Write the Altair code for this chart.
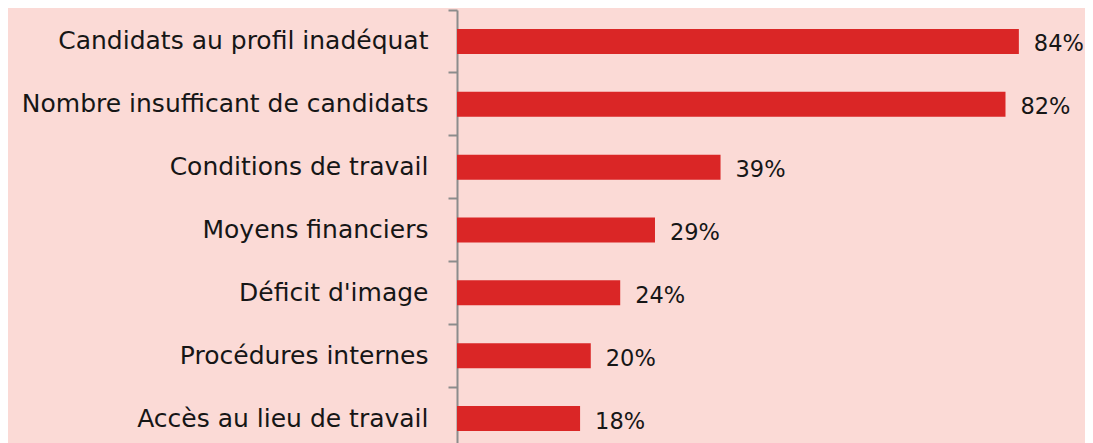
import altair as alt
import pandas as pd

categories = [
    "Candidats au profil inadéquat",
    "Nombre insufficant de candidats",
    "Conditions de travail",
    "Moyens financiers",
    "Déficit d'image",
    "Procédures internes\u00a0",
    "Accès au lieu de travail",
]
values = [84.0, 82.0, 39.4, 29.6, 24.4, 20.0, 18.4]
value_labels = ["84%", "82%", "39%", "29%", "24%", "20%", "18%"]

df = pd.DataFrame({"cat": categories, "val": values, "lab": value_labels})

FONT = "DejaVu Sans"
BG = "#FBDAD6"
RED = "#DA2626"

y_enc = alt.Y(
    "cat:N",
    sort=categories,
    title=None,
    scale=alt.Scale(paddingInner=0, paddingOuter=0, range=[0, 440]),
    axis=alt.Axis(
        bandPosition=0,
        domainColor="#8C8C8C",
        domainWidth=2,
        tickColor="#8C8C8C",
        tickWidth=2,
        tickSize=9,
        labelPadding=20,
        labelFont=FONT,
        labelFontSize=25,
        labelColor="#161616",
        labelLimit=500,
    ),
)
x_enc = alt.X(
    "val:Q",
    title=None,
    scale=alt.Scale(domain=[0, 90], nice=False),
    axis=None,
)

bars = alt.Chart(df).mark_bar(color=RED, size=25).encode(y=y_enc, x=x_enc)
texts = alt.Chart(df).mark_text(
    align="left", baseline="middle", dx=15, dy=3, font=FONT, fontSize=22.5, color="#161616"
).encode(y=y_enc, x=x_enc, text="lab:N")

chart = (
    alt.layer(bars, texts)
    .properties(
        width=602,
        height=440,
        background=BG,
        padding={"left": 449, "top": 2, "right": 26, "bottom": 0},
        autosize=alt.AutoSizeParams(type="none"),
    )
    .configure_view(stroke=None)
)

chart.save("out.html", embed_options={"renderer": "svg", "actions": False})
